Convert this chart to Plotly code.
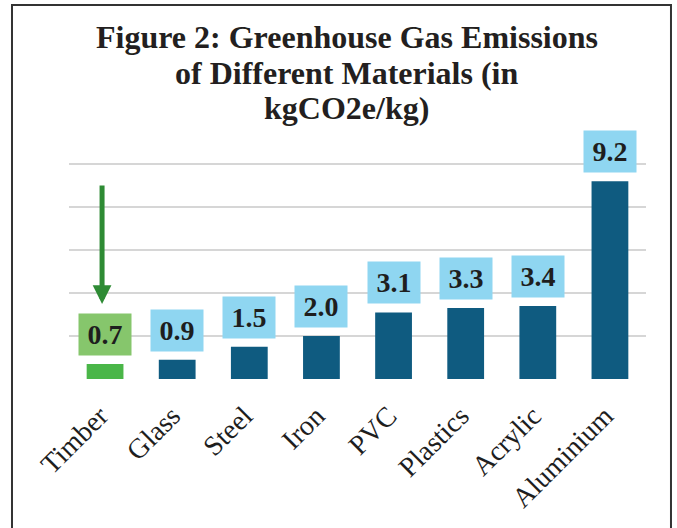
import plotly.graph_objects as go

materials = ["Timber", "Glass", "Steel", "Iron", "PVC", "Plastics", "Acrylic", "Aluminium"]
emissions = [0.7, 0.9, 1.5, 2.0, 3.1, 3.3, 3.4, 9.2]
title_lines = ["Figure 2: Greenhouse Gas Emissions", "of Different Materials (in", "kgCO2e/kg)"]
highlight = "Timber"

SERIF = "Liberation Serif"
bar_colors = ["#4ab648" if m == highlight else "#0f5b80" for m in materials]
box_colors = ["#86c66c" if m == highlight else "#8fd6f1" for m in materials]

fig = go.Figure(go.Bar(x=materials, y=emissions, marker=dict(color=bar_colors, line_width=0),
                       hoverinfo="x+y"))

# value boxes above bars
for m, v, c in zip(materials, emissions, box_colors):
    fig.add_annotation(x=m, y=v, text="<b>%.1f</b>" % v, showarrow=False, yanchor="bottom", yshift=8,
                       width=50, height=39, bgcolor=c, font=dict(family=SERIF, size=28, color="#1e1e1e"))

# green arrow pointing at the highlighted material
hv = emissions[materials.index(highlight)]
fig.add_annotation(x=highlight, y=hv, xshift=-3, yshift=60, ax=0, ay=-120, text="", showarrow=True,
                   arrowhead=2, arrowsize=0.75, arrowwidth=5, arrowcolor="#2e8b34")

# title, one annotation per line (plot area is 217 px tall now, top at y=162)
for txt, yy in zip(title_lines, [1.578, 1.4124, 1.2466]):
    fig.add_annotation(xref="paper", yref="paper", x=0.4818, y=yy, text="<b>%s</b>" % txt, showarrow=False,
                       xanchor="center", yanchor="middle", font=dict(family=SERIF, size=32, color="#231f20"))

# frame around the figure
fig.add_shape(type="rect", xref="paper", yref="paper", x0=-0.0988, x1=1.0433, y0=-0.75, y1=1.7235,
              line=dict(color="#333333", width=2), layer="above")

fig.update_layout(
    width=677, height=528,
    margin=dict(l=69, r=31, t=162, b=149),
    paper_bgcolor="white", plot_bgcolor="white",
    bargap=0.49, showlegend=False,
    font=dict(family=SERIF, color="#1e1e1e"),
)
fig.update_xaxes(tickangle=-45, tickfont=dict(family=SERIF, size=28, color="#1e1e1e"),
                 ticks="", ticklabelstandoff=14, ticklabelshift=-5, showline=False, showgrid=False)
fig.update_yaxes(range=[0, 10.1], dtick=2, showticklabels=False, showgrid=True, gridcolor="#d6d6d6",
                 gridwidth=2, zeroline=False, showline=False)

fig.write_html("out.html", config={"displayModeBar": False},
               post_script="document.body.style.margin='0';")
